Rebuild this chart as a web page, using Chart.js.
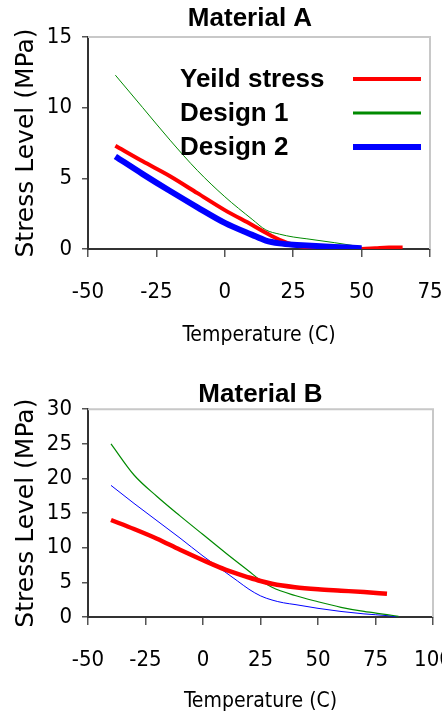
<!DOCTYPE html>
<html>
<head>
<meta charset="utf-8">
<script src="https://cdn.jsdelivr.net/npm/chart.js@4.4.1/dist/chart.umd.min.js"></script>
<style>
  body { margin: 0; background: #fff; }
  canvas { display: block; }
</style>
</head>
<body>
<canvas id="chartA" width="442" height="360"></canvas>
<canvas id="chartB" width="442" height="358"></canvas>
<script>
// series names
var seriesNames = ['Yeild stress', 'Design 1', 'Design 2'];

// Material A
var xTicksA = [-50, -25, 0, 25, 50, 75];
var yTicksA = [0, 5, 10, 15];
var tempA_yield = [-40, -30, -20, -10, 0, 10, 15, 20, 25, 30, 35, 40, 45, 50, 55, 60, 65];
var yieldA = [7.3, 6.2, 5.15, 3.95, 2.75, 1.7, 1.15, 0.65, 0.3, 0.12, 0.04, 0, 0, 0, 0.05, 0.1, 0.1];
var tempA_d1 = [-40, -30, -20, -10, 0, 10, 15, 20, 25, 30, 40, 50];
var design1A = [12.3, 10.0, 7.7, 5.55, 3.7, 2.1, 1.35, 1.05, 0.85, 0.72, 0.45, 0.15];
var tempA_d2 = [-40, -30, -20, -10, 0, 10, 15, 20, 25, 30, 40, 50];
var design2A = [6.55, 5.3, 4.1, 2.95, 1.85, 1.0, 0.6, 0.4, 0.3, 0.25, 0.15, 0.05];

// Material B
var xTicksB = [-50, -25, 0, 25, 50, 75, 100];
var yTicksB = [0, 5, 10, 15, 20, 25, 30];
var tempB_yield = [-40, -30, -20, -10, 0, 10, 20, 25, 30, 40, 50, 60, 70, 80];
var yieldB = [14, 12.7, 11.3, 9.7, 8.2, 6.8, 5.7, 5.2, 4.8, 4.3, 4.0, 3.8, 3.6, 3.35];
var tempB_d1 = [-40, -30, -20, -10, 0, 10, 20, 25, 30, 40, 50, 60, 70, 80, 85];
var design1B = [25, 20.5, 17.4, 14.6, 11.9, 9.2, 6.6, 5.3, 4.3, 3.1, 2.2, 1.4, 0.8, 0.35, 0.1];
var tempB_d2 = [-40, -30, -20, -10, 0, 10, 15, 20, 25, 30, 35, 40, 50, 60, 70, 80, 85];
var design2B = [19, 16.4, 13.9, 11.4, 8.8, 6.4, 5.2, 4.0, 3.05, 2.45, 2.05, 1.8, 1.25, 0.8, 0.45, 0.2, 0];

var narrow = '"DejaVu Sans Condensed", "Liberation Sans Narrow", sans-serif';
var wide = '"DejaVu Sans", sans-serif';
var arial = '"Liberation Sans", Arial, sans-serif';

function pts(xs, ys) {
  return xs.map(function(x, i) { return {x: x, y: ys[i]}; });
}

// legend drawn as text with a line sample to the right
var lineLegend = {
  id: 'lineLegend',
  afterDraw: function(chart, args, opts) {
    if (!opts.display) return;
    var ctx = chart.ctx;
    ctx.save();
    ctx.font = 'bold 26px ' + arial;
    ctx.textBaseline = 'middle';
    ctx.fillStyle = '#000';
    chart.data.datasets.forEach(function(ds, i) {
      var y = opts.top + i * opts.gap;
      ctx.fillText(ds.label, opts.textX, y + 1);
      ctx.strokeStyle = ds.borderColor;
      ctx.lineWidth = Math.max(3, ds.borderWidth);
      ctx.beginPath();
      ctx.moveTo(opts.lineX, y);
      ctx.lineTo(opts.lineX + opts.lineLen, y);
      ctx.stroke();
    });
    ctx.restore();
  }
};

// light grey frame on top and right of the plot
var plotFrame = {
  id: 'plotFrame',
  beforeDatasetsDraw: function(chart) {
    var a = chart.chartArea, ctx = chart.ctx;
    ctx.save();
    ctx.strokeStyle = '#c8c8c8';
    ctx.lineWidth = 2;
    ctx.beginPath();
    ctx.moveTo(a.left, a.top);
    ctx.lineTo(a.right, a.top);
    ctx.lineTo(a.right, a.bottom);
    ctx.stroke();
    ctx.restore();
  },
  afterLayout: function(chart, args, opts) {
    if (opts.titleShift && chart.titleBlock) {
      chart.titleBlock.left += opts.titleShift;
      chart.titleBlock.right += opts.titleShift;
    }
  }
};

function makeChart(id, c) {
  return new Chart(document.getElementById(id), {
    type: 'scatter',
    data: { datasets: c.datasets },
    plugins: [plotFrame, lineLegend],
    options: {
      responsive: false,
      animation: false,
      layout: { padding: { left: 0, right: c.rightPad, top: 0, bottom: 0 } },
      elements: { point: { radius: 0 }, line: { cubicInterpolationMode: 'monotone' } },
      plugins: {
        legend: { display: false },
        tooltip: { enabled: false },
        title: {
          display: true,
          text: c.title,
          fullSize: false,
          color: '#000',
          font: { family: arial, size: 26, weight: 'bold' },
          padding: c.titlePad
        },
        plotFrame: { titleShift: c.titleShift || 0 },
        lineLegend: c.legend || { display: false }
      },
      scales: {
        x: {
          type: 'linear',
          min: c.xTicks[0],
          max: c.xTicks[c.xTicks.length - 1],
          afterBuildTicks: function(s) { s.ticks = c.xTicks.map(function(v) { return {value: v}; }); },
          afterFit: function(s) { s.height = c.xAxisHeight; s.paddingLeft = 0; s.paddingRight = 0; },
          grid: { drawOnChartArea: false, drawTicks: true, tickLength: 8, color: '#555', lineWidth: 1.5 },
          border: { color: '#333', width: 2 },
          ticks: { color: '#000', font: { family: narrow, size: 22 }, padding: 22, maxRotation: 0, autoSkip: false },
          title: {
            display: true,
            text: 'Temperature (C)',
            color: '#000',
            font: { family: narrow, size: 21 },
            padding: { top: 0, bottom: c.xTitlePad }
          }
        },
        y: {
          min: c.yTicks[0],
          max: c.yTicks[c.yTicks.length - 1],
          afterBuildTicks: function(s) { s.ticks = c.yTicks.map(function(v) { return {value: v}; }); },
          afterFit: function(s) { s.width = 88; },
          grid: { drawOnChartArea: false, drawTicks: true, tickLength: 6, color: '#555', lineWidth: 1.5 },
          border: { color: '#333', width: 2 },
          ticks: { color: '#000', font: { family: narrow, size: 22 }, padding: 10 },
          title: {
            display: true,
            text: 'Stress Level (MPa)',
            color: '#000',
            font: { family: wide, size: 25 },
            padding: { top: 11, bottom: 0 }
          }
        }
      }
    }
  });
}

makeChart('chartA', {
  title: 'Material A',
  titlePad: { top: 3.4, bottom: 2.4 },
  titleShift: -9,
  rightPad: 12,
  xAxisHeight: 111,
  xTitlePad: 12,
  xTicks: xTicksA,
  yTicks: yTicksA,
  legend: { display: true, textX: 180, top: 79, gap: 34, lineX: 353, lineLen: 68 },
  datasets: [
    { label: seriesNames[0], data: pts(tempA_yield, yieldA), showLine: true, borderColor: '#ff0000', borderWidth: 4 },
    { label: seriesNames[1], data: pts(tempA_d1, design1A), showLine: true, borderColor: '#008a00', borderWidth: 1 },
    { label: seriesNames[2], data: pts(tempA_d2, design2A), showLine: true, borderColor: '#0000ff', borderWidth: 6, order: -1 }
  ]
});

makeChart('chartB', {
  title: 'Material B',
  titlePad: { top: 19, bottom: -1 },
  rightPad: 9,
  xAxisHeight: 101,
  xTitlePad: 3.5,
  xTicks: xTicksB,
  yTicks: yTicksB,
  datasets: [
    { label: seriesNames[0], data: pts(tempB_yield, yieldB), showLine: true, borderColor: '#ff0000', borderWidth: 4.5 },
    { label: seriesNames[1], data: pts(tempB_d1, design1B), showLine: true, borderColor: '#008a00', borderWidth: 1.2 },
    { label: seriesNames[2], data: pts(tempB_d2, design2B), showLine: true, borderColor: '#0000ff', borderWidth: 1 }
  ]
});
</script>
</body>
</html>
